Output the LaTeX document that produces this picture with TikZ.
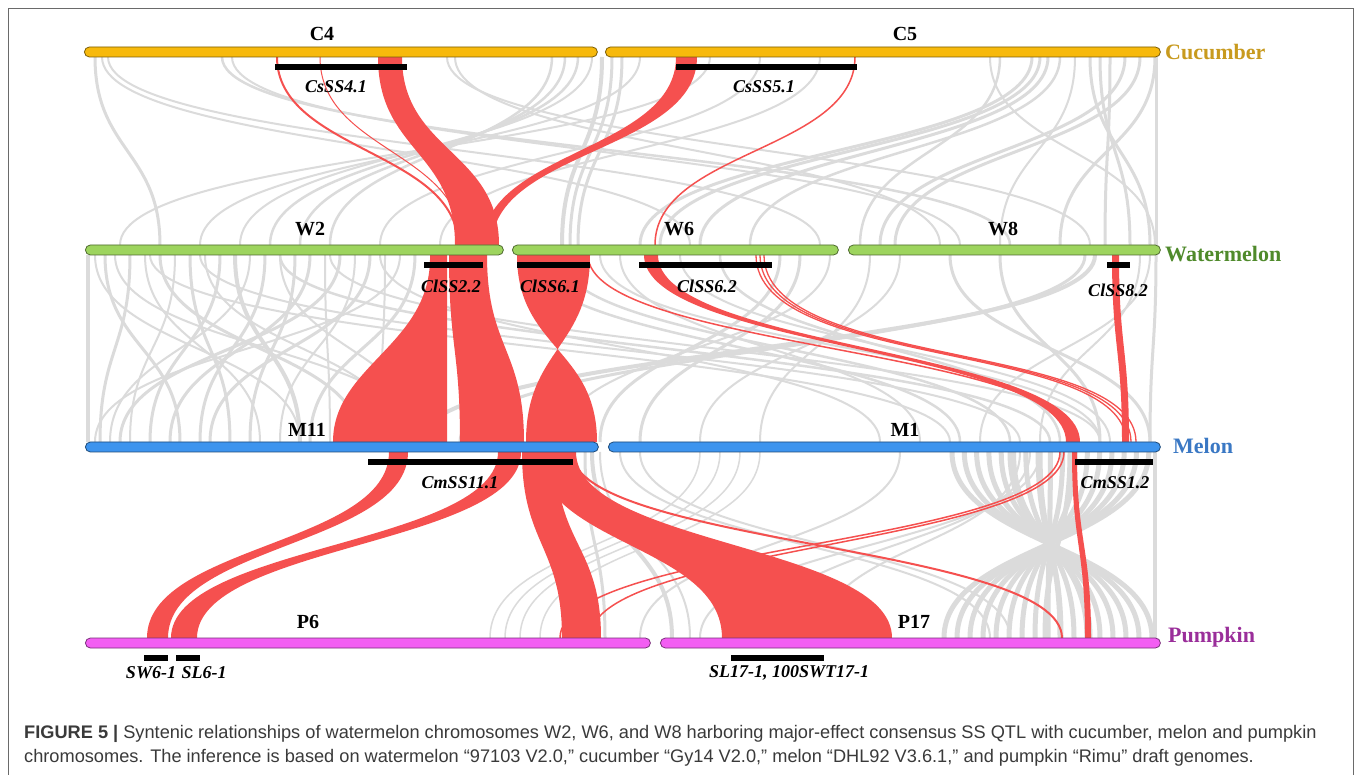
\documentclass[tikz,border=0pt]{standalone}
\usepackage{fontspec}
\setmainfont{Liberation Serif}
\newfontfamily\capfont{Liberation Sans}
\definecolor{ribred}{HTML}{F5504F}
\definecolor{linkgray}{HTML}{DBDBDB}
\definecolor{cucbar}{HTML}{F7B90C}
\definecolor{cuctext}{HTML}{C89A1E}
\definecolor{watbar}{HTML}{9DD45E}
\definecolor{wattext}{HTML}{4F8A2B}
\definecolor{melbar}{HTML}{3D94EE}
\definecolor{meltext}{HTML}{3A78C4}
\definecolor{pumbar}{HTML}{F35EF3}
\definecolor{pumtext}{HTML}{9A2E9A}
\definecolor{captext}{HTML}{3A3A3A}
\definecolor{framecol}{HTML}{6A6A6A}
\tikzset{
  glk/.style={draw=linkgray, line width=#1},
  glk/.default=2,
  rln/.style={draw=ribred, line width=#1},
  rln/.default=1.5,
  chrom/.style={draw=#1!50!black, fill=#1, rounded corners=5, minimum height=10, inner sep=0, anchor=west, line width=0.8},
  qtlbar/.style={fill=black, minimum height=6, inner sep=0, anchor=west},
  chlab/.style={font=\bfseries\fontsize{20}{20}\selectfont, inner sep=0},
  qlab/.style={font=\bfseries\itshape\fontsize{18}{18}\selectfont, inner sep=0},
  splab/.style={font=\bfseries\fontsize{22}{22}\selectfont, inner sep=0, anchor=west},
}
% gray link: [width]{y1}{y2}{x1}{x2}
\newcommand\glink[5][2]{\pgfmathsetmacro\rym{(#2+#3)/2}%
  \draw[glk=#1] (#4,#2) .. controls (#4,\rym) and (#5,\rym) .. (#5,#3);}
\newcommand\rlink[5][1.5]{\pgfmathsetmacro\rym{(#2+#3)/2}%
  \draw[rln=#1] (#4,#2) .. controls (#4,\rym) and (#5,\rym) .. (#5,#3);}
% ribbon: [color]{y1}{y2}{a1}{a2}{b1}{b2}
\newcommand\ribbon[7][ribred]{\pgfmathsetmacro\rym{(#2+#3)/2}%
  \fill[#1] (#4,#2) .. controls (#4,\rym) and (#6,\rym) .. (#6,#3) -- (#7,#3) .. controls (#7,\rym) and (#5,\rym) .. (#5,#2) -- cycle;}
\newcommand\gCW[3][2]{\glink[#1]{57}{245}{#2}{#3}}
\newcommand\gWM[3][2]{\glink[#1]{255}{442}{#2}{#3}}
\newcommand\gMP[3][2]{\glink[#1]{452}{638}{#2}{#3}}
\begin{document}
\begin{tikzpicture}[x=1pt,y=-1pt]
\useasboundingbox (0,0) rectangle (1358,775);
\fill[white] (0,0) rectangle (1358,775);
\draw[framecol, line width=1.3] (8.5,776) -- (8.5,8.5) -- (1353.5,8.5) -- (1353.5,776);

% ---------- gray links: cucumber -> watermelon
\gCW[3]{95}{160}
\gCW[2]{102}{690}
\gCW[2]{108}{820}
\gCW[2.5]{222}{1010}
\gCW[2]{232}{960}
\gCW[2]{447}{1090}
\gCW[2]{455}{940}
\gCW[2.5]{552}{330}
\gCW[2.5]{565}{300}
\gCW[2.5]{578}{270}
\gCW[2]{592}{240}
\gCW[4]{602}{562}
\gCW[3]{612}{570}
\gCW[3]{622}{578}
\gCW[2]{640}{200}
\gCW[2]{710}{120}
\gCW[2]{760}{380}
\gCW[2]{820}{440}
\gCW[2.5]{1000}{860}
\gCW[3]{1032}{640}
\gCW[3]{1040}{660}
\gCW[3]{1048}{700}
\gCW[2.5]{1060}{750}
\gCW[3]{1090}{1150}
\gCW[3]{1100}{1130}
\gCW[3]{1110}{1105}
\gCW[3]{1125}{880}
\gCW[3]{1140}{895}
\gCW[3]{1155}{1060}
\gCW[2]{1075}{1000}
\gCW[2]{990}{1155}
\gCW[3]{1156}{1156}

% ---------- gray links: watermelon -> melon
\gWM[4]{88}{88}
\gWM[2]{95}{300}
\gWM[3]{105}{180}
\gWM[2]{115}{420}
\gWM[3]{130}{100}
\gWM[2]{145}{260}
\gWM[3]{160}{360}
\gWM[2]{175}{130}
\gWM[3]{190}{230}
\gWM[2]{205}{400}
\gWM[3]{220}{150}
\gWM[4]{235}{300}
\gWM[2]{250}{110}
\gWM[3]{265}{200}
\gWM[2]{280}{420}
\gWM[3]{295}{250}
\gWM[3]{310}{170}
\gWM[2]{325}{330}
\gWM[3]{340}{120}
\gWM[2]{355}{280}
\gWM[3]{370}{210}
\gWM[2]{385}{380}
\gWM[2]{400}{95}
\gWM[3]{415}{310}
\gWM[2]{150}{950}
\gWM[2]{200}{1020}
\gWM[2.5]{280}{1050}
\gWM[2]{330}{1100}
\gWM[2]{380}{880}
\gWM[2.5]{530}{960}
\gWM[2.5]{560}{1010}
\gWM[2]{600}{1100}
\gWM[2]{620}{920}
\gWM[3]{780}{600}
\gWM[3]{800}{640}
\gWM[2]{830}{560}
\gWM[4]{1095}{420}
\gWM[3]{1085}{460}
\gWM[2]{900}{700}
\gWM[2]{870}{760}
\gWM[3]{950}{1150}
\gWM[3]{1000}{1100}
\gWM[2]{1150}{980}
\gWM[2]{1140}{1040}
\gWM[2.5]{720}{1060}
\gWM[2]{680}{1110}
\gWM[3]{1156}{1150}

% ---------- gray links: melon -> pumpkin
\gMP[1.5]{700}{490}
\gMP[1.5]{720}{505}
\gMP[1.5]{740}{520}
\gMP[1.5]{760}{540}
\gMP[3]{585}{605}
\gMP[4]{592}{672}
\gMP[2]{600}{690}
\gMP[2]{1040}{700}
\gMP[2]{1030}{760}
\gMP[2]{1020}{820}
\gMP[2]{620}{990}
\gMP[2]{640}{1010}
\gMP[2]{900}{640}
\foreach \i in {0,...,16}{
  \pgfmathsetmacro\xa{952+12.3*\i}
  \pgfmathsetmacro\xb{1152-13*\i}
  \glink[5]{452}{638}{\xa}{\xb}
}
\gMP[5]{1040}{1060}
\gMP[5]{1070}{1045}
\gMP[5]{1010}{1090}
\gMP[4]{1155}{1155}

% ---------- red: cucumber -> watermelon
\ribbon{57}{245}{378}{402}{455}{499}
\rlink[2]{57}{245}{277}{458}
\rlink[1]{57}{245}{320}{462}
\ribbon{57}{245}{676}{697}{483}{492}
\rlink[1.5]{57}{245}{855}{655}

% ---------- red: watermelon -> melon
\fill[ribred] (430,255) .. controls (432,345) and (333,365) .. (333,442) -- (447,442) -- (447,255) -- cycle;
\ribbon{255}{442}{449}{487}{460}{524}
\ribbon{255}{442}{517}{590}{597}{526}
\rlink[1.5]{255}{442}{588}{1077}
\ribbon{255}{442}{644}{658}{1066}{1080}
\foreach \xo/\xe in {756/1126, 760/1131, 764/1136}{
  \draw[rln=1.3] (\xo,255) .. controls (\xo,370) and (\xe,340) .. (\xe,442);
}
\ribbon{255}{442}{1112}{1119}{1122}{1129}

% ---------- red: melon -> pumpkin
\ribbon{452}{638}{389}{408}{147}{168}
\ribbon{452}{638}{498}{521}{171}{197}
\ribbon{452}{638}{522}{556}{562}{601}
\ribbon{452}{638}{538}{576}{722}{892}
\rlink[1.5]{452}{638}{1064}{590}
\rlink[1.5]{452}{638}{1060}{560}
\rlink[2]{452}{638}{572}{1062}
\ribbon{452}{638}{1072}{1077}{1085}{1091}

% ---------- chromosomes
\node[chrom=cucbar, minimum width=513] (c4) at (84,52) {};
\node[chrom=cucbar, minimum width=555] (c5) at (605,52) {};
\node[chrom=watbar, minimum width=418] (w2) at (85,250) {};
\node[chrom=watbar, minimum width=326] (w6) at (512,250) {};
\node[chrom=watbar, minimum width=312] (w8) at (848,250) {};
\node[chrom=melbar, minimum width=513] (m11) at (85,447) {};
\node[chrom=melbar, minimum width=552] (m1) at (608,447) {};
\node[chrom=pumbar, minimum width=565] (p6) at (85,643) {};
\node[chrom=pumbar, minimum width=500] (p17) at (660,643) {};

% ---------- QTL bars
\node[qtlbar, minimum width=132] (q41) at (275,67) {};
\node[qtlbar, minimum width=181] (q51) at (676,67) {};
\node[qtlbar, minimum width=59] (q22) at (424,265) {};
\node[qtlbar, minimum width=73] (q61) at (517,265) {};
\node[qtlbar, minimum width=133] (q62) at (639,265) {};
\node[qtlbar, minimum width=23] (q82) at (1107,265) {};
\node[qtlbar, minimum width=205] (q111) at (368,462) {};
\node[qtlbar, minimum width=78] (q12) at (1075,462) {};
\node[qtlbar, minimum width=24] (qsw) at (144,658) {};
\node[qtlbar, minimum width=24] (qsl) at (176,658) {};
\node[qtlbar, minimum width=93] (qsl17) at (731,658) {};

% ---------- labels
\node[chlab] (lc4) at (322,34) {C4};
\node[chlab] (lc5) at (905,34) {C5};
\node[chlab] (lw2) at (310,229) {W2};
\node[chlab] (lw6) at (679,229) {W6};
\node[chlab] (lw8) at (1003,229) {W8};
\node[chlab] (lm11) at (307,430) {M11};
\node[chlab] (lm1) at (905,430) {M1};
\node[chlab] (lp6) at (308,622) {P6};
\node[chlab] (lp17) at (914,622) {P17};

\node[splab, text=cuctext] (scu) at (1165,52) {Cucumber};
\node[splab, text=wattext] (swa) at (1165,254) {Watermelon};
\node[splab, text=meltext] (sme) at (1173,446) {Melon};
\node[splab, text=pumtext] (spu) at (1168,637) {Pumpkin};

\node[qlab] (t41) at (336,87) {CsSS4.1};
\node[qlab] (t51) at (764,87) {CsSS5.1};
\node[qlab] (t22) at (451,286) {ClSS2.2};
\node[qlab] (t61) at (550,286) {ClSS6.1};
\node[qlab] (t62) at (707,286) {ClSS6.2};
\node[qlab] (t82) at (1118,290) {ClSS8.2};
\node[qlab] (t111) at (460,483) {CmSS11.1};
\node[qlab] (t12) at (1115,483) {CmSS1.2};
\node[qlab] (tsw) at (151,673) {SW6-1};
\node[qlab] (tsl) at (204,673) {SL6-1};
\node[qlab] (tsl17) at (789,673) {SL17-1, 100SWT17-1};

% ---------- caption
\node[anchor=north west, inner sep=0, align=left, text=captext,
      font=\capfont\fontsize{18.2}{24}\selectfont] (cap) at (24,725)
  {\textbf{FIGURE 5 |} Syntenic relationships of watermelon chromosomes W2, W6, and W8 harboring major-effect consensus SS QTL with cucumber, melon and pumpkin\\
   chromosomes. The inference is based on watermelon “97103 V2.0,” cucumber “Gy14 V2.0,” melon “DHL92 V3.6.1,” and pumpkin “Rimu” draft genomes.};
\end{tikzpicture}
\end{document}
